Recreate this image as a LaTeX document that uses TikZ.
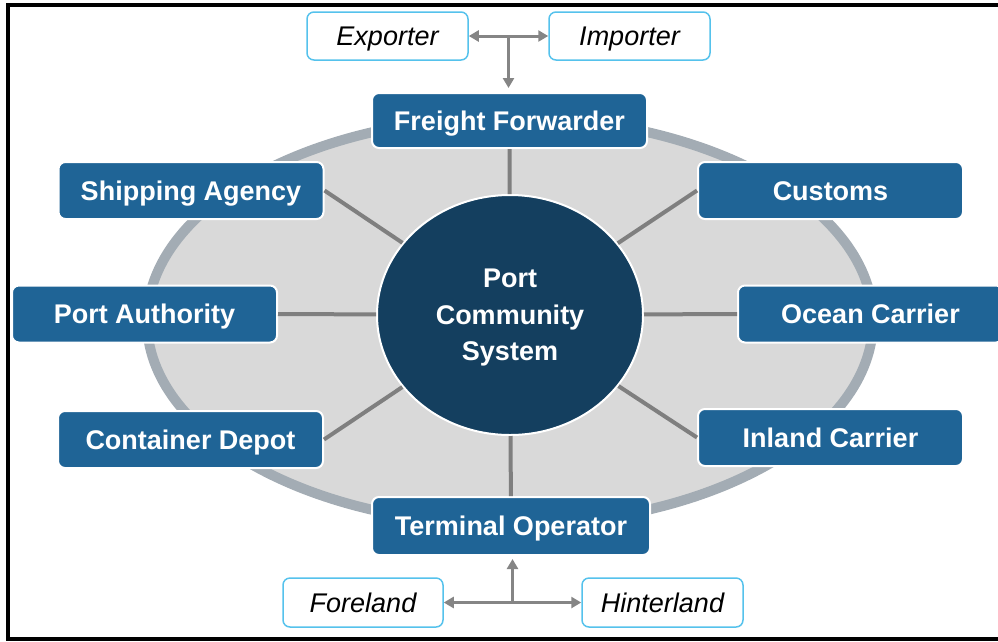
\documentclass[tikz,border=0pt]{standalone}
\usepackage{fontspec}
\setmainfont{Liberation Sans}
\usetikzlibrary{shapes.geometric,arrows.meta}
\definecolor{boxblue}{HTML}{1F6496}
\definecolor{navy}{HTML}{143F5F}
\definecolor{ellfill}{HTML}{D9D9D9}
\definecolor{ellrim}{HTML}{A3ACB4}
\definecolor{spokegray}{HTML}{7F7F7F}
\definecolor{arrowgray}{HTML}{858585}
\definecolor{lblue}{HTML}{55C2EC}
\begin{document}
\begin{tikzpicture}[x=1pt,y=-1pt,
  rolebox/.style={draw=white,line width=2pt,fill=boxblue,rounded corners=7pt,text=white,
    font=\fontsize{27}{30}\selectfont\bfseries,minimum width=#1,minimum height=57pt,inner sep=0pt,
    text height=19.5pt,text depth=0pt},
  rolebox/.default=265pt,
  partybox/.style={draw=lblue,line width=1.5pt,fill=white,rounded corners=7pt,text=black,
    font=\fontsize{27}{30}\selectfont\itshape,minimum width=161pt,minimum height=48pt,inner sep=0pt,
    text height=19pt,text depth=0pt},
  hub/.style={ellipse,draw=white,line width=2pt,fill=navy,text=white,minimum width=266pt,
    minimum height=240pt,inner sep=0pt,align=center,font=\fontsize{27}{36.5}\selectfont\bfseries,
    text depth=0pt},
  spoke/.style={draw=spokegray,line width=4pt},
  flow/.style={draw=arrowgray,line width=3pt,-{Triangle[length=10pt,width=11pt]}},
  biflow/.style={draw=arrowgray,line width=3pt,{Triangle[length=10pt,width=11pt]}-{Triangle[length=10pt,width=11pt]}}
]
\useasboundingbox (0,0) rectangle (998,641);
% frame
\draw[line width=4pt,black] (8,5) rectangle (1012,639);
% ring
\draw[ellrim,fill=ellfill,line width=10pt] (510,321) ellipse [x radius=363pt,y radius=204pt];
% hub
\node[hub] (pcs) at (510,315) {Port\\Community\\System};
% role boxes
\node[rolebox=275pt,minimum height=55pt] (ff) at (509.5,120.5) {Freight Forwarder};
\node[rolebox=278pt,minimum height=58pt] (to) at (511,526) {Terminal Operator};
\node[rolebox] (sa) at (191,190.5) {Shipping Agency};
\node[rolebox] (pa) at (144.5,314) {Port Authority};
\node[rolebox] (cd) at (190.5,439.5) {Container Depot};
\node[rolebox] (cu) at (830.5,190.5) {Customs};
\node[rolebox] (oc) at (870.5,314) {Ocean Carrier};
\node[rolebox] (ic) at (830.5,437.5) {Inland Carrier};
% spokes
\draw[spoke] (pcs) -- (ff);
\draw[spoke] (pcs) -- (to);
\draw[spoke] (pcs) -- (sa.east);
\draw[spoke] (pcs) -- (pa.east);
\draw[spoke] (pcs) -- (cd.east);
\draw[spoke] (pcs) -- (cu.west);
\draw[spoke] (pcs) -- (oc.west);
\draw[spoke] (pcs) -- (ic.west);
% parties
\node[partybox] (ex) at (387.5,36) {Exporter};
\node[partybox] (im) at (629.5,36) {Importer};
\node[partybox,minimum width=160pt,minimum height=49pt] (fo) at (363,602.5) {Foreland};
\node[partybox,minimum height=49pt] (hi) at (662.5,602.5) {Hinterland};
% arrows
\draw[biflow] (ex) -- coordinate[midway] (topj) (im);
\draw[flow,shorten >=4pt] (topj) -- (topj |- ff.north);
\draw[biflow] (fo) -- coordinate[midway] (botj) (hi);
\draw[flow,shorten >=3pt] (botj) -- (botj |- to.south);
\end{tikzpicture}
\end{document}
